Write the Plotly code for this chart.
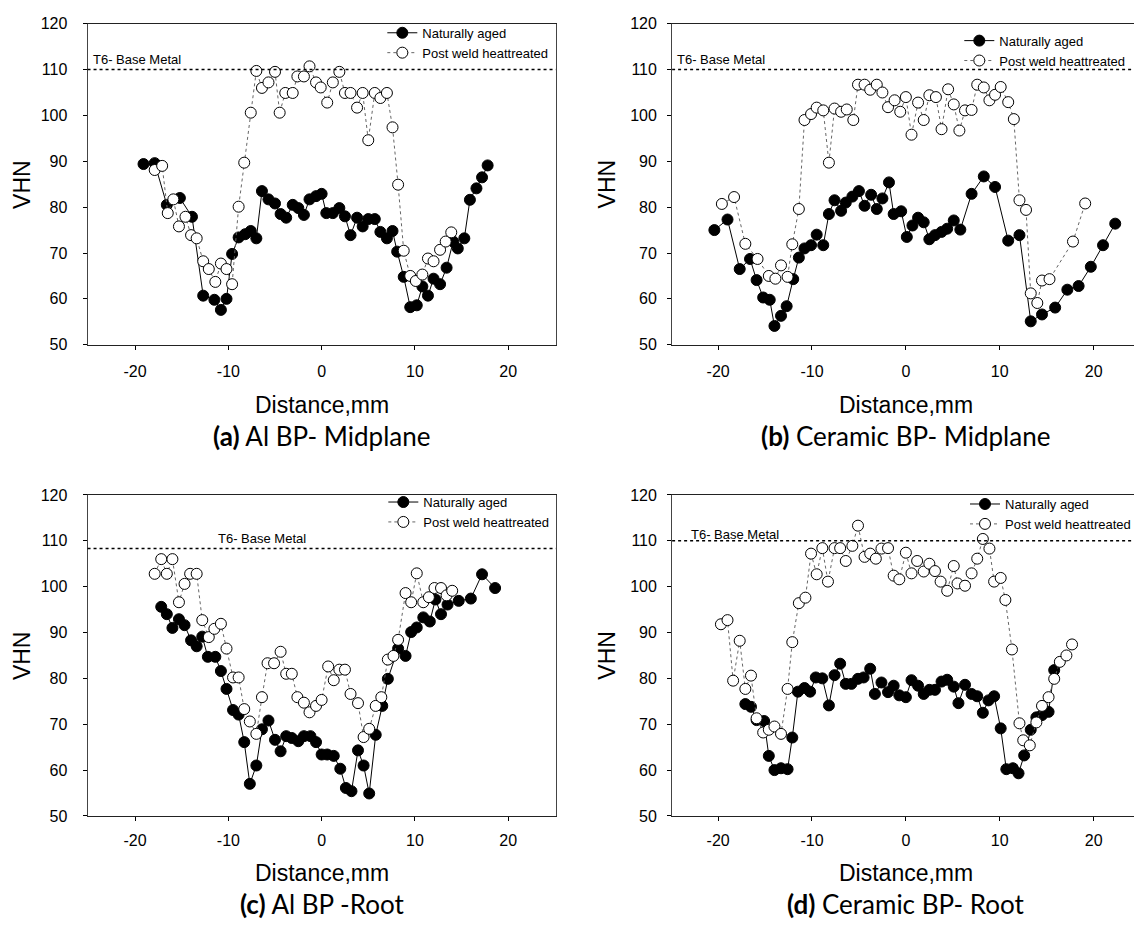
import plotly.graph_objects as go

# ---------------- data ----------------
# (a) Al BP - Midplane
a_na_x = [-19.1, -17.9, -16.6, -15.2, -13.9, -12.7, -11.5, -10.8, -10.2, -9.6, -8.9, -8.2, -7.6, -7.0, -6.4,
          -5.7, -5.0, -4.4, -3.8, -3.1, -2.5, -1.9, -1.3, -0.6, 0.0, 0.5, 1.2, 1.9, 2.5, 3.1, 3.8, 4.4, 5.0,
          5.7, 6.3, 7.0, 7.6, 8.1, 8.8, 9.5, 10.2, 10.8, 11.4, 12.0, 12.7, 13.4, 14.1, 14.6, 15.3, 15.9,
          16.6, 17.2, 17.8]
a_na_y = [89.4, 89.6, 80.5, 82.0, 77.9, 60.7, 59.8, 57.6, 60.0, 69.8, 73.4, 74.1, 74.8, 73.2, 83.5, 81.7,
          80.8, 78.5, 77.7, 80.5, 79.8, 78.3, 81.7, 82.4, 82.9, 78.7, 78.7, 79.8, 78.0, 73.9, 77.7, 75.8,
          77.4, 77.4, 74.6, 73.2, 74.8, 70.3, 64.8, 58.2, 58.6, 62.7, 60.7, 64.4, 63.2, 66.8, 72.5, 71.0,
          73.2, 81.6, 84.1, 86.5, 89.1]
a_pw_x = [-17.9, -17.1, -16.5, -15.9, -15.3, -14.6, -14.0, -13.4, -12.7, -12.1, -11.4, -10.8, -10.2, -9.6,
          -8.9, -8.3, -7.6, -7.0, -6.4, -5.7, -5.0, -4.5, -3.9, -3.1, -2.6, -1.9, -1.3, -0.6, -0.1, 0.6,
          1.2, 1.9, 2.5, 3.1, 3.8, 4.4, 5.0, 5.7, 6.3, 7.0, 7.6, 8.2, 8.8, 9.5, 10.1, 10.8, 11.4, 12.0,
          12.7, 13.3, 13.9]
a_pw_y = [88.1, 89.0, 78.7, 81.7, 75.8, 77.9, 73.9, 73.2, 68.2, 66.5, 63.7, 67.7, 66.5, 63.2, 80.1, 89.7,
          100.6, 109.7, 106.0, 107.2, 109.5, 100.6, 104.9, 104.9, 108.5, 108.5, 110.7, 107.2, 106.1,
          102.8, 107.2, 109.5, 104.9, 104.9, 101.7, 104.9, 94.6, 104.9, 103.8, 104.9, 97.4, 84.9, 70.5,
          65.0, 63.9, 65.3, 68.8, 68.2, 70.7, 72.5, 74.5]

# (b) Ceramic BP - Midplane
b_na_x = [-20.4, -19.0, -17.7, -16.6, -15.9, -15.2, -14.5, -14.0, -13.3, -12.7, -12.0, -11.4, -10.8, -10.1,
          -9.5, -8.8, -8.2, -7.6, -6.9, -6.4, -5.7, -5.0, -4.4, -3.7, -3.1, -2.5, -1.8, -1.3, -0.5, 0.1,
          0.7, 1.3, 1.9, 2.5, 3.1, 3.8, 4.4, 5.1, 5.8, 7.0, 8.3, 9.5, 10.9, 12.1, 13.3, 14.5, 15.9, 17.2,
          18.4, 19.7, 21.0, 22.3]
b_na_y = [75.0, 77.3, 66.5, 68.7, 64.1, 60.3, 59.8, 54.1, 56.3, 58.4, 64.3, 69.0, 71.0, 71.7, 74.0, 71.7,
          78.5, 81.5, 79.2, 81.0, 82.3, 83.5, 80.3, 82.7, 79.6, 81.9, 85.4, 78.5, 79.1, 73.5, 76.0, 77.7,
          76.7, 73.0, 73.9, 74.6, 75.3, 77.1, 75.1, 82.9, 86.7, 84.4, 72.7, 73.9, 55.1, 56.6, 58.1, 62.0,
          62.8, 67.0, 71.7, 76.4]
b_pw_x = [-19.6, -18.3, -17.1, -15.8, -14.6, -13.9, -13.3, -12.6, -12.1, -11.4, -10.8, -10.1, -9.5, -8.8,
          -8.2, -7.6, -6.9, -6.3, -5.6, -5.1, -4.4, -3.8, -3.1, -2.5, -1.9, -1.2, -0.6, 0.0, 0.6, 1.3, 1.9,
          2.5, 3.2, 3.8, 4.5, 5.1, 5.7, 6.3, 7.0, 7.6, 8.3, 8.9, 9.5, 10.1, 10.9, 11.5, 12.1, 12.8, 13.3,
          14.0, 14.5, 15.3, 17.8, 19.1]
b_pw_y = [80.7, 82.2, 72.0, 68.7, 65.0, 64.4, 67.3, 64.8, 71.9, 79.6, 99.0, 100.3, 101.7, 101.1, 89.7,
          101.5, 100.8, 101.3, 99.0, 106.7, 106.7, 105.6, 106.7, 105.0, 101.8, 103.3, 100.8, 104.0, 95.8,
          102.8, 99.0, 104.4, 104.0, 97.0, 105.7, 102.4, 96.7, 101.1, 101.2, 106.7, 106.1, 103.3, 104.5,
          106.2, 102.9, 99.2, 81.5, 79.4, 61.2, 59.1, 64.0, 64.3, 72.5, 80.8]

# (c) Al BP - Root
c_na_x = [-17.2, -16.6, -16.0, -15.3, -14.7, -14.0, -13.4, -12.8, -12.2, -11.4, -10.8, -10.2, -9.5, -8.9,
          -8.3, -7.7, -7.0, -6.4, -5.7, -5.0, -4.4, -3.8, -3.2, -2.5, -1.9, -1.2, -0.6, 0.0, 0.6, 1.3, 2.0,
          2.6, 3.2, 3.9, 4.5, 5.1, 5.8, 6.5, 7.1, 8.2, 9.0, 9.6, 10.2, 10.9, 11.6, 12.2, 12.8, 13.5, 14.7,
          16.0, 17.2, 18.6]
c_na_y = [95.6, 94.0, 91.0, 92.9, 91.6, 88.3, 87.0, 89.1, 84.7, 84.7, 81.6, 77.7, 73.1, 72.1, 66.1, 57.0,
          61.0, 68.9, 70.8, 66.6, 64.1, 67.4, 67.0, 66.3, 67.4, 67.4, 66.1, 63.4, 63.4, 63.1, 60.3, 56.1,
          55.4, 64.3, 61.0, 54.9, 67.7, 74.0, 79.9, 86.5, 84.9, 90.1, 91.1, 93.3, 92.4, 97.2, 94.0, 96.1,
          96.9, 97.4, 102.7, 99.7]
c_pw_x = [-17.9, -17.2, -16.6, -16.0, -15.3, -14.7, -14.1, -13.4, -12.8, -12.1, -11.5, -10.8, -10.2, -9.5,
          -8.9, -8.3, -7.7, -7.0, -6.4, -5.8, -5.1, -4.4, -3.8, -3.2, -2.6, -1.9, -1.3, -0.6, 0.0, 0.7,
          1.3, 1.9, 2.5, 3.1, 3.9, 4.5, 5.1, 5.8, 6.4, 7.1, 7.7, 8.2, 9.0, 9.6, 10.2, 10.9, 11.5, 12.1,
          12.8, 13.4, 14.0]
c_pw_y = [102.8, 106.0, 102.8, 106.0, 96.6, 100.6, 102.8, 102.8, 92.7, 89.0, 90.8, 91.9, 86.5, 80.2, 80.2,
          73.3, 70.6, 67.9, 75.9, 83.3, 83.3, 85.8, 81.0, 81.0, 75.9, 74.7, 72.6, 74.0, 75.3, 82.6, 79.6,
          81.9, 81.9, 76.6, 74.6, 67.2, 69.0, 74.0, 75.9, 84.1, 84.9, 88.4, 98.6, 96.6, 102.9, 96.6, 97.7,
          99.7, 99.7, 98.1, 99.1]

# (d) Ceramic BP - Root
d_na_x = [-17.1, -16.5, -15.9, -15.1, -14.6, -14.0, -13.3, -12.6, -12.1, -11.5, -10.8, -10.2, -9.6, -8.9,
          -8.2, -7.6, -7.0, -6.4, -5.8, -5.1, -4.5, -3.8, -3.3, -2.6, -1.9, -1.3, -0.7, 0.0, 0.6, 1.3, 1.9,
          2.5, 3.1, 3.8, 4.4, 5.1, 5.6, 6.3, 7.0, 7.6, 8.2, 8.8, 9.4, 10.1, 10.7, 11.4, 12.0, 12.6, 13.3,
          13.9, 14.5, 15.2, 15.8]
d_na_y = [74.4, 73.8, 70.9, 70.7, 63.1, 60.0, 60.4, 60.2, 67.1, 77.1, 77.9, 77.1, 80.2, 80.0, 74.1, 80.7,
          83.2, 78.8, 78.8, 79.9, 80.2, 82.1, 76.6, 79.1, 77.0, 78.4, 76.3, 75.9, 79.6, 78.4, 76.6, 77.5,
          77.5, 79.3, 79.7, 78.2, 74.6, 78.6, 76.6, 76.1, 72.5, 75.2, 76.1, 69.1, 60.2, 60.4, 59.3, 63.2,
          68.8, 71.5, 72.0, 72.7, 81.8]
d_pw_x = [-19.7, -19.0, -18.4, -17.7, -17.1, -16.5, -15.9, -15.2, -14.6, -14.0, -13.3, -12.6, -12.1, -11.4,
          -10.7, -10.1, -9.5, -8.9, -8.3, -7.6, -7.0, -6.4, -5.7, -5.1, -4.4, -3.8, -3.2, -2.6, -1.9, -1.3,
          -0.7, 0.0, 0.6, 1.2, 1.9, 2.5, 3.1, 3.7, 4.4, 5.1, 5.5, 6.3, 7.0, 7.6, 8.2, 8.9, 9.4, 10.1, 10.6,
          11.3, 12.1, 12.5, 13.2, 13.9, 14.5, 15.2, 15.8, 16.4, 17.1, 17.7]
d_pw_y = [91.8, 92.7, 79.5, 88.2, 77.7, 80.6, 71.3, 68.2, 68.8, 69.5, 67.9, 77.7, 87.9, 96.4, 97.6, 107.2,
          102.7, 108.4, 101.1, 108.4, 108.4, 105.6, 108.9, 113.3, 106.5, 107.2, 106.1, 108.3, 108.4, 102.4,
          101.6, 107.4, 102.9, 105.6, 103.3, 105.0, 103.4, 101.1, 99.1, 104.5, 100.7, 100.2, 102.9, 106.1,
          110.4, 108.3, 101.1, 101.9, 97.1, 86.3, 70.2, 66.5, 65.4, 70.4, 74.0, 75.9, 79.9, 83.6, 85.0,
          87.4]

base_metal = [110.0, 110.0, 108.3, 110.0]
series_names = ["Naturally aged", "Post weld heattreated"]
captions = ["<b>(a)</b> Al BP- Midplane", "<b>(b)</b> Ceramic BP- Midplane",
            "<b>(c)</b> Al BP -Root", "<b>(d)</b> Ceramic BP- Root"]
x_ticks = [-20, -10, 0, 10, 20]
x_tick_text = ["-20", "-10", "0", "10", "20"]
base_label = "T6- Base Metal"
x_title = "Distance,mm"
y_title = "VHN"

# ---------------- layout helpers ----------------
W, H = 1136, 930
FONT = "Liberation Sans, Arial, sans-serif"


def fx(px):
    return px / W


def fy(py):
    return 1 - py / H


panels = [
    dict(na=(a_na_x, a_na_y), pw=(a_pw_x, a_pw_y), xd=(87.7, 556.7), yd=(16, 343), xr=[-25.1, 25.1],
         mirror_y=True, lbl=(90.7, 112.1), leg=(383, 10), std=12, xstd=8, off=(27, 61, 93)),
    dict(na=(b_na_x, b_na_y), pw=(b_pw_x, b_pw_y), xd=(673.3, 1136), yd=(16, 343), xr=[-24.9, 24.3],
         mirror_y=False, lbl=(676, 112.1), leg=(961, 18), std=7, xstd=8, off=(27, 61, 93)),
    dict(na=(c_na_x, c_na_y), pw=(c_pw_x, c_pw_y), xd=(87.7, 556.7), yd=(496, 823), xr=[-25.1, 25.1],
         mirror_y=True, lbl=(216.7, 110.6), leg=(384, 488), std=12, xstd=6, off=(24, 58, 90)),
    dict(na=(d_na_x, d_na_y), pw=(d_pw_x, d_pw_y), xd=(673.3, 1136), yd=(496, 823), xr=[-24.9, 24.3],
         mirror_y=False, lbl=(690, 111.4), leg=(967, 490), std=7, xstd=6, off=(24, 58, 90)),
]

fig = go.Figure()
layout = dict(width=W, height=H, margin=dict(l=0, r=0, t=0, b=0), paper_bgcolor="white",
              plot_bgcolor="white", showlegend=True, font=dict(family=FONT, color="black"))
annotations = []
shapes = []

for i, p in enumerate(panels):
    k = "" if i == 0 else str(i + 1)
    xa, ya = "x" + k, "y" + k
    lg = "legend" + k
    fig.add_trace(go.Scatter(
        x=p["na"][0], y=p["na"][1], mode="lines+markers", name=series_names[0], xaxis=xa, yaxis=ya,
        legend=lg, line=dict(color="black", width=1),
        marker=dict(symbol="circle", size=11, color="black", line=dict(color="black", width=1))))
    fig.add_trace(go.Scatter(
        x=p["pw"][0], y=p["pw"][1], mode="lines+markers", name=series_names[1], xaxis=xa, yaxis=ya,
        legend=lg, line=dict(color="#666666", width=1, dash="dot"),
        marker=dict(symbol="circle", size=11, color="white", line=dict(color="black", width=1))))

    layout["xaxis" + k] = dict(
        domain=[fx(p["xd"][0]), fx(p["xd"][1])], range=p["xr"], anchor=ya, tickvals=x_ticks,
        ticktext=x_tick_text, ticks="outside", ticklen=4, tickcolor="black", showline=True,
        linecolor="#222222", linewidth=1, mirror=True, showgrid=False, zeroline=False,
        ticklabelstandoff=p["xstd"], tickfont=dict(family=FONT, size=16, color="black"))
    layout["yaxis" + k] = dict(
        domain=[fy(p["yd"][1]), fy(p["yd"][0])], range=[50, 120], anchor=xa, dtick=10, tick0=50,
        ticks="outside", ticklen=4, tickcolor="black", showline=True, linecolor="#444444", linewidth=1,
        mirror=p["mirror_y"], showgrid=False, zeroline=False, ticklabelstandoff=p["std"],
        tickfont=dict(family=FONT, size=16, color="black"))
    layout[lg] = dict(x=fx(p["leg"][0]), y=fy(p["leg"][1]), xanchor="left", yanchor="top",
                      bgcolor="rgba(0,0,0,0)", borderwidth=0, tracegroupgap=0,
                      font=dict(family=FONT, size=13, color="black"))

    shapes.append(dict(type="line", xref=xa + " domain", x0=0, x1=1, yref=ya, y0=base_metal[i],
                       y1=base_metal[i], line=dict(color="black", width=1.5, dash="dot")))
    annotations.append(dict(text=base_label, xref="paper", x=fx(p["lbl"][0]), xanchor="left",
                            yref=ya, y=p["lbl"][1], yanchor="middle", showarrow=False,
                            font=dict(family=FONT, size=13, color="black")))
    axis_px = p["yd"][1]
    annotations.append(dict(text=y_title, xref="paper", x=fx(p["xd"][0] - 65), yref="paper",
                            y=fy((p["yd"][0] + p["yd"][1]) / 2), textangle=-90, showarrow=False,
                            xanchor="center", yanchor="middle",
                            font=dict(family=FONT, size=23, color="black")))
    annotations.append(dict(text=x_title, xref=xa, x=0, yref="paper", y=fy(axis_px + p["off"][1]),
                            xanchor="center", yanchor="middle", showarrow=False,
                            font=dict(family=FONT, size=23, color="black")))
    annotations.append(dict(text=captions[i], xref=xa, x=0, yref="paper", y=fy(axis_px + p["off"][2]),
                            xanchor="center", yanchor="middle", showarrow=False,
                            font=dict(family="Lato, Open Sans, sans-serif", size=26, color="black")))

layout["annotations"] = annotations
layout["shapes"] = shapes
fig.update_layout(**layout)
fig.write_html("out.html")
